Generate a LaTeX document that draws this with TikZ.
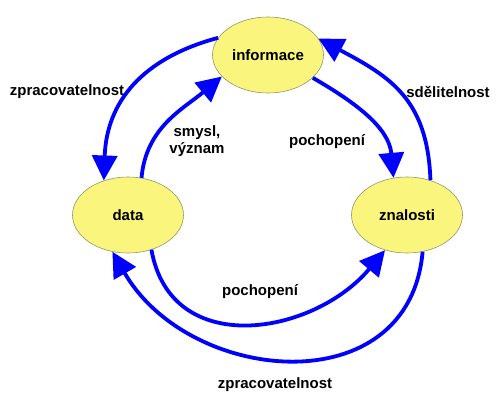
\documentclass[tikz,border=0pt]{standalone}
\usepackage{fontspec}
\setmainfont{Liberation Sans}
\usetikzlibrary{shapes.geometric,arrows.meta}
\definecolor{zluta}{RGB}{250,245,125}
\definecolor{okraj}{RGB}{150,150,100}

\begin{document}
\begin{tikzpicture}[x=1pt, y=-1pt,
  stav/.style={ellipse, draw=okraj, line width=0.6pt, fill=zluta,
    minimum width=111pt, minimum height=76pt, inner sep=0pt},
  sipka/.style={-{Triangle[length=25pt,width=25pt]}, line width=3.8pt, blue},
  popis/.style={align=center}]
  \useasboundingbox (0,0) rectangle (500,403);
  \fontsize{15}{17}\selectfont\bfseries
    \node (INFO) [stav] at (268,55) {informace};
    \node (DATA) [stav] at (128,215) {data};
    \node (ZNAL) [stav] at (407,215) {znalosti};
    % vnejsi oblouky
    \draw [sipka] (INFO.161) to[out=195, in=88, looseness=1.1] (DATA.125);
    \draw [sipka] (ZNAL.56) to[out=92, in=-28, looseness=1.15] (INFO.18);
    \draw [sipka] (ZNAL.293) to[out=-95, in=-60, looseness=1.27] (DATA.247);
    % vnitrni oblouky
    \draw [sipka] (DATA.70) to[out=85, in=220] (INFO.205);
    \draw [sipka] (INFO.333) to[out=-30, in=95] (ZNAL.110);
    \draw [sipka] (DATA.304) to[out=-80, in=-130, looseness=1.22] (ZNAL.238);
    % popisky
    \node (ZPRAC1) [popis] at (67,92) {zpracovatelnost};
    \node (SMYSL) [popis] at (197,141) {smysl,\\význam};
    \node (POCH1) [popis] at (327,142) {pochopení};
    \node (SDEL) [popis] at (448,92) {sdělitelnost};
    \node (POCH2) [popis] at (260,292) {pochopení};
    \node (ZPRAC2) [popis] at (275,385) {zpracovatelnost};
\end{tikzpicture}
\end{document}
